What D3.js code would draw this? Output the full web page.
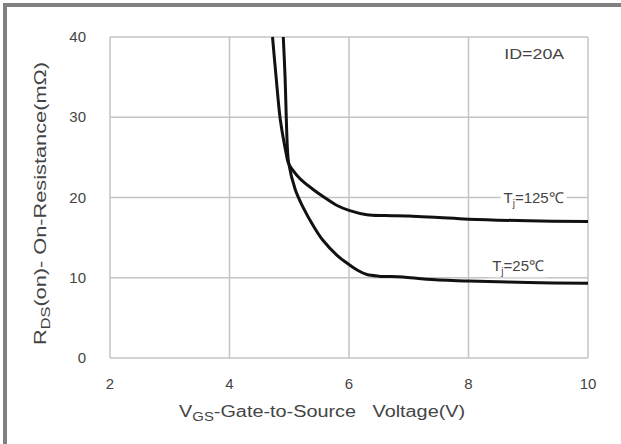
<!DOCTYPE html>
<html lang="en">
<head>
<meta charset="UTF-8">
<title>RDS(on) vs VGS</title>
<script src="https://cdn.jsdelivr.net/npm/d3@7"></script>
<style>
  body { margin: 0; background: #fff; }
  svg text { font-family: "Liberation Sans", Arial, sans-serif; fill: #444; }
</style>
</head>
<body>
<svg id="chart" width="621" height="444"></svg>
<script>
// axis ticks
var xTicks = [2, 4, 6, 8, 10];
var yTicks = [0, 10, 20, 30, 40];

// Tj = 125C curve (VGS in V, RDS(on) in mOhm)
var vgs125 = [4.72, 4.78, 4.845, 4.9, 4.945, 4.985, 5.05, 5.13, 5.23, 5.4, 5.56, 5.8, 6.0, 6.3, 6.6, 7.0, 7.5, 8.0, 9.0, 10.0];
var rds125 = [40, 35, 30, 27.4, 25.6, 24.3, 23.5, 22.75, 22.0, 21.0, 20.15, 19.0, 18.4, 17.85, 17.75, 17.7, 17.5, 17.3, 17.1, 17.0];

// Tj = 25C curve
var vgs25 = [4.9, 4.93, 4.95, 4.97, 4.99, 5.1, 5.23, 5.4, 5.56, 5.8, 5.97, 6.15, 6.3, 6.5, 6.9, 7.3, 8.0, 9.0, 10.0];
var rds25 = [40, 35, 30, 26, 24.3, 21.0, 18.8, 16.5, 14.7, 12.8, 11.8, 10.9, 10.4, 10.2, 10.1, 9.8, 9.6, 9.4, 9.3];

var svg = d3.select("#chart");

// outer frame (only top and left edges are visible in the source image)
svg.append("rect").attr("x", 3).attr("y", 3).attr("width", 618).attr("height", 4).attr("fill", "#808080");
svg.append("rect").attr("x", 3).attr("y", 3).attr("width", 4).attr("height", 441).attr("fill", "#808080");

var margin = { left: 110, top: 37, right: 33, bottom: 86 };
var w = 621 - margin.left - margin.right;
var h = 444 - margin.top - margin.bottom;

var g = svg.append("g").attr("transform", "translate(" + margin.left + "," + margin.top + ")");

var x = d3.scaleLinear().domain([2, 10]).range([0, w]);
var y = d3.scaleLinear().domain([0, 40]).range([h, 0]);

// grid
g.selectAll(".vgrid").data(xTicks).enter().append("line")
  .attr("x1", function (d) { return x(d); }).attr("x2", function (d) { return x(d); })
  .attr("y1", 0).attr("y2", h)
  .attr("stroke", "#c4c4c4").attr("stroke-width", 1.5);
g.selectAll(".hgrid").data(yTicks).enter().append("line")
  .attr("x1", 0).attr("x2", w)
  .attr("y1", function (d) { return y(d); }).attr("y2", function (d) { return y(d); })
  .attr("stroke", "#c4c4c4").attr("stroke-width", 1.5);

// tick labels
g.selectAll(".xt").data(xTicks).enter().append("text")
  .attr("x", function (d) { return x(d); })
  .attr("y", h + 31)
  .attr("text-anchor", "middle")
  .attr("font-size", 15)
  .text(function (d) { return d; });
g.selectAll(".yt").data(yTicks).enter().append("text")
  .attr("x", -24)
  .attr("y", function (d) { return y(d) + 5; })
  .attr("text-anchor", "end")
  .attr("font-size", 15)
  .text(function (d) { return d; });

// curves
var line = d3.line()
  .x(function (d) { return x(d[0]); })
  .y(function (d) { return y(d[1]); })
  .curve(d3.curveCatmullRom.alpha(0.5));

g.append("path").datum(d3.zip(vgs125, rds125))
  .attr("d", line).attr("fill", "none").attr("stroke", "#111").attr("stroke-width", 3);
g.append("path").datum(d3.zip(vgs25, rds25))
  .attr("d", line).attr("fill", "none").attr("stroke", "#111").attr("stroke-width", 3);

// annotations
g.append("text").attr("x", x(9.1)).attr("y", y(37.2))
  .attr("text-anchor", "middle").attr("font-size", 15)
  .attr("textLength", 60).attr("lengthAdjust", "spacingAndGlyphs").text("ID=20A");

// Tj labels with white background (covers the grid line)
function tjLabel(cx, cy, t) {
  var lab = g.append("g");
  var txt = lab.append("text").attr("x", cx).attr("y", cy)
    .attr("text-anchor", "middle").attr("font-size", 15);
  txt.append("tspan").text("T");
  txt.append("tspan").attr("font-size", 10).attr("dy", 4).text("j");
  txt.append("tspan").attr("dy", -4).text("=" + t + "\u2103");
  var bb = txt.node().getBBox();
  lab.insert("rect", "text").attr("x", bb.x - 3).attr("y", bb.y)
    .attr("width", bb.width + 6).attr("height", bb.height).attr("fill", "#fff");
}
tjLabel(x(9.09), y(19.35), "125");
tjLabel(x(8.83), y(10.8), "25");

// axis titles
var xt = g.append("text").attr("x", x(5.55)).attr("y", h + 59)
  .attr("text-anchor", "middle").attr("font-size", 16)
  .attr("textLength", 286).attr("lengthAdjust", "spacingAndGlyphs");
xt.append("tspan").text("V");
xt.append("tspan").attr("font-size", 12).attr("dy", 4).text("GS");
xt.append("tspan").attr("dy", -4).attr("xml:space", "preserve").text("-Gate-to-Source   Voltage(V)");

var yt = svg.append("text")
  .attr("transform", "translate(46," + 203.5 + ") rotate(-90)")
  .attr("text-anchor", "middle").attr("font-size", 16)
  .attr("textLength", 283).attr("lengthAdjust", "spacingAndGlyphs");
yt.append("tspan").text("R");
yt.append("tspan").attr("font-size", 12).attr("dy", 4).text("DS");
yt.append("tspan").attr("dy", -4).text("(on)- On-Resistance(m\u03A9)");
</script>
</body>
</html>
